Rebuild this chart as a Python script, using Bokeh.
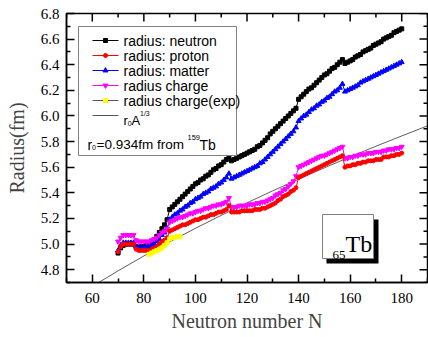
from bokeh.plotting import figure
from bokeh.models import Range1d, LinearAxis, FixedTicker, PrintfTickFormatter, Label
from bokeh.embed import file_html
from bokeh.resources import INLINE

# ---------------- data ----------------
N = list(range(70, 181))

r_neutron = [4.93, 4.97, 4.99, 5.00, 5.00, 5.00, 5.00, 4.98, 4.97, 4.98,
             4.98, 4.99, 5.00, 5.01, 5.03, 5.06, 5.09, 5.12, 5.15, 5.19,
             5.27, 5.29, 5.31, 5.33, 5.35, 5.37, 5.39, 5.41, 5.43, 5.45,
             5.47, 5.48, 5.50, 5.51, 5.53, 5.54, 5.56, 5.58, 5.59, 5.61,
             5.62, 5.64, 5.66, 5.68, 5.65, 5.66, 5.67, 5.68, 5.69, 5.70,
             5.71, 5.72, 5.73, 5.74, 5.76, 5.77, 5.79, 5.81, 5.83, 5.86,
             5.88, 5.90, 5.92, 5.94, 5.96, 5.98, 6.00, 6.02, 6.04, 6.06,
             6.13, 6.15, 6.17, 6.19, 6.21, 6.22, 6.24, 6.26, 6.28, 6.30,
             6.32, 6.33, 6.35, 6.37, 6.38, 6.40, 6.42, 6.44, 6.41, 6.42,
             6.43, 6.44, 6.46, 6.47, 6.48, 6.50, 6.51, 6.52, 6.53, 6.55,
             6.56, 6.57, 6.58, 6.60, 6.61, 6.62, 6.63, 6.65, 6.66, 6.67,
             6.68]

r_proton = [4.94, 4.98, 5.00, 5.00, 5.00, 5.00, 5.00, 4.96, 4.95, 4.95,
            4.95, 4.95, 4.95, 4.96, 4.97, 4.98, 5.00, 5.02, 5.03, 5.05,
            5.10, 5.11, 5.12, 5.13, 5.14, 5.15, 5.15, 5.16, 5.17, 5.18,
            5.19, 5.19, 5.20, 5.21, 5.21, 5.22, 5.23, 5.23, 5.24, 5.25,
            5.25, 5.26, 5.27, 5.30, 5.25, 5.25, 5.25, 5.25, 5.26, 5.26,
            5.26, 5.26, 5.26, 5.27, 5.27, 5.27, 5.28, 5.28, 5.29, 5.30,
            5.31, 5.32, 5.34, 5.35, 5.37, 5.38, 5.39, 5.41, 5.42, 5.44,
            5.52, 5.53, 5.54, 5.55, 5.56, 5.57, 5.58, 5.59, 5.60, 5.61,
            5.62, 5.63, 5.64, 5.65, 5.66, 5.67, 5.68, 5.69, 5.60, 5.61,
            5.61, 5.62, 5.62, 5.63, 5.63, 5.64, 5.64, 5.65, 5.65, 5.65,
            5.66, 5.66, 5.66, 5.68, 5.68, 5.68, 5.69, 5.69, 5.70, 5.70,
            5.71]

r_matter = [4.95, 4.99, 5.01, 5.01, 5.01, 5.01, 5.01, 4.98, 4.97, 4.97,
            4.97, 4.98, 4.98, 4.99, 5.00, 5.02, 5.04, 5.07, 5.09, 5.12,
            5.19, 5.21, 5.23, 5.24, 5.26, 5.27, 5.29, 5.30, 5.32, 5.33,
            5.35, 5.36, 5.37, 5.39, 5.40, 5.41, 5.43, 5.44, 5.45, 5.47,
            5.48, 5.50, 5.52, 5.55, 5.51, 5.52, 5.53, 5.54, 5.55, 5.56,
            5.57, 5.58, 5.59, 5.60, 5.61, 5.63, 5.64, 5.66, 5.68, 5.70,
            5.72, 5.74, 5.76, 5.78, 5.80, 5.82, 5.84, 5.86, 5.88, 5.91,
            5.96, 5.98, 6.00, 6.01, 6.03, 6.05, 6.06, 6.08, 6.09, 6.11,
            6.12, 6.14, 6.15, 6.17, 6.19, 6.20, 6.22, 6.25, 6.19, 6.20,
            6.21, 6.22, 6.23, 6.24, 6.26, 6.27, 6.28, 6.29, 6.30, 6.31,
            6.32, 6.33, 6.34, 6.35, 6.36, 6.37, 6.38, 6.39, 6.40, 6.41,
            6.42]

r_charge = [5.02, 5.05, 5.07, 5.07, 5.07, 5.07, 5.07, 5.03, 5.02, 5.02,
            5.02, 5.02, 5.02, 5.03, 5.04, 5.05, 5.07, 5.09, 5.10, 5.12,
            5.17, 5.18, 5.19, 5.20, 5.21, 5.21, 5.22, 5.23, 5.24, 5.24,
            5.25, 5.26, 5.26, 5.27, 5.28, 5.28, 5.29, 5.30, 5.30, 5.31,
            5.31, 5.32, 5.33, 5.36, 5.29, 5.29, 5.29, 5.30, 5.30, 5.30,
            5.30, 5.31, 5.31, 5.31, 5.32, 5.32, 5.33, 5.33, 5.34, 5.35,
            5.36, 5.38, 5.39, 5.40, 5.42, 5.43, 5.45, 5.47, 5.49, 5.53,
            5.60, 5.61, 5.62, 5.63, 5.64, 5.65, 5.66, 5.67, 5.68, 5.69,
            5.69, 5.70, 5.71, 5.72, 5.73, 5.74, 5.75, 5.76, 5.67, 5.67,
            5.68, 5.68, 5.69, 5.69, 5.70, 5.70, 5.70, 5.71, 5.71, 5.71,
            5.72, 5.72, 5.72, 5.73, 5.73, 5.74, 5.74, 5.74, 5.75, 5.75,
            5.76]

N_exp = [82, 83, 84, 85, 86, 87, 88, 89, 90, 91, 92, 93, 94]
r_charge_exp = [4.92, 4.93, 4.94, 4.95, 4.96, 4.97, 4.99, 5.01, 5.04, 5.05, 5.05, 5.06, 5.06]

N_line = [60, 70, 80, 90, 100, 110, 120, 130, 140, 150, 160, 170, 180, 190]
r_line = [4.670, 4.791, 4.907, 5.017, 5.123, 5.224, 5.322, 5.416, 5.507,
          5.595, 5.681, 5.764, 5.844, 5.923]

x_ticks = [60, 80, 100, 120, 140, 160, 180]
x_minor = [50, 70, 90, 110, 130, 150, 170, 190]
y_ticks = [4.8, 5.0, 5.2, 5.4, 5.6, 5.8, 6.0, 6.2, 6.4, 6.6, 6.8]
y_minor = [4.7, 4.9, 5.1, 5.3, 5.5, 5.7, 5.9, 6.1, 6.3, 6.5, 6.7]

# ---------------- figure ----------------
XMIN, XMAX, YMIN, YMAX = 50, 190, 4.7, 6.8
FL, FR, FT, FB = 66, 427, 13, 282   # frame edges in pixels
SX = (XMAX - XMIN) / (FR - FL)      # data units per pixel
SY = (YMAX - YMIN) / (FB - FT)

def dx(px):
    return XMIN + (px - FL) * SX

def dy(py):
    return YMIN + (FB - py) * SY

p = figure(width=428, height=337, output_backend="svg", toolbar_location=None,
           x_range=Range1d(XMIN, XMAX), y_range=Range1d(YMIN, YMAX),
           min_border_left=FL, min_border_right=428 - FR, min_border_top=FT,
           min_border_bottom=337 - FB, x_axis_type=None, y_axis_type=None)
p.xgrid.visible = False
p.ygrid.visible = False
p.outline_line_color = "black"
p.outline_line_width = 1.5
p.background_fill_color = "white"
p.border_fill_color = "white"

SERIF = "Liberation Serif"
SANS = "Liberation Sans"

def style_axis(ax):
    ax.axis_line_width = 1.5
    ax.axis_line_color = "black"
    ax.major_tick_in = 8
    ax.major_tick_out = 0
    ax.minor_tick_in = 4
    ax.minor_tick_out = 0
    ax.major_tick_line_width = 1.5
    ax.minor_tick_line_width = 1.5
    ax.major_label_text_font = SERIF
    ax.major_label_text_font_size = "15px"
    ax.major_label_text_color = "black"
    ax.axis_label_text_font = SERIF
    ax.axis_label_text_font_style = "normal"
    ax.axis_label_text_font_size = "20px"

xax = LinearAxis(ticker=FixedTicker(ticks=x_ticks, minor_ticks=x_minor))
style_axis(xax)
xax.axis_label = "Neutron number N"
xax.major_label_standoff = 10
xax.axis_label_standoff = 4
p.add_layout(xax, "below")

yax = LinearAxis(ticker=FixedTicker(ticks=y_ticks, minor_ticks=y_minor),
                 formatter=PrintfTickFormatter(format="%.1f"))
style_axis(yax)
yax.axis_label = "Radius(fm)"
yax.major_label_standoff = 7
yax.axis_label_standoff = 10
p.add_layout(yax, "left")

# mirrored ticks on top and right (decoration)
p.segment(x0=x_ticks, y0=[YMAX] * len(x_ticks), x1=x_ticks,
          y1=[YMAX - 8 * SY] * len(x_ticks), line_color="black", line_width=1.5)
p.segment(x0=x_minor, y0=[YMAX] * len(x_minor), x1=x_minor,
          y1=[YMAX - 4 * SY] * len(x_minor), line_color="black", line_width=1.5)
p.segment(x0=[XMAX] * len(y_ticks), y0=y_ticks, x1=[XMAX - 8 * SX] * len(y_ticks),
          y1=y_ticks, line_color="black", line_width=1.5)
p.segment(x0=[XMAX] * len(y_minor), y0=y_minor, x1=[XMAX - 4 * SX] * len(y_minor),
          y1=y_minor, line_color="black", line_width=1.5)

# ---------------- series ----------------
p.line(N_line, r_line, line_color="#333333", line_width=0.8)

p.line(N, r_neutron, line_color="black", line_width=1)
p.scatter(N, r_neutron, marker="square", size=4, color="black")

p.line(N, r_matter, line_color="blue", line_width=1)
p.scatter(N, r_matter, marker="triangle", size=5, color="blue")

p.line(N, r_charge, line_color="magenta", line_width=1)
p.scatter(N, r_charge, marker="inverted_triangle", size=5, color="magenta")

p.line(N, r_proton, line_color="red", line_width=1)
p.scatter(N, r_proton, marker="circle", size=4, color="red")

p.scatter(N_exp, r_charge_exp, marker="square", size=4, color="yellow")

# ---------------- legend (hand made) ----------------
p.quad(left=[dx(78)], right=[dx(236)], top=[dy(26)], bottom=[dy(155)],
       fill_color="white", line_color="#808080", line_width=1)

rows = [
    ("radius: neutron", "black", "black", "square", 4),
    ("radius: proton", "red", "red", "circle", 4),
    ("radius: matter", "blue", "blue", "triangle", 5),
    ("radius charge", "magenta", "magenta", "inverted_triangle", 5),
    ("radius charge(exp)", "#555555", "yellow", "square", 4),
]
row_y = [40, 55, 70, 85, 100]
for (txt, lc, mc, mk, ms), ry in zip(rows, row_y):
    p.line([dx(92), dx(118)], [dy(ry), dy(ry)], line_color=lc, line_width=1)
    p.scatter([dx(105)], [dy(ry)], marker=mk, size=ms, color=mc)
    p.add_layout(Label(x=dx(123), y=dy(ry), text=txt, text_baseline="middle",
                       text_font=SANS, text_font_size="14px", text_color="black"))

p.line([dx(92), dx(118)], [dy(115), dy(115)], line_color="#555555", line_width=1)

def lab(px, py, t, size, font=SANS, base="alphabetic"):
    p.add_layout(Label(x=dx(px), y=dy(py), text=t, text_baseline=base,
                       text_font=font, text_font_size=size, text_color="black"))

lab(123, 120, "r", "13px")
lab(127.3, 123, "0", "7px")
lab(131, 120, "A", "13px")
lab(139.5, 113, "1/3", "7px")

lab(87, 144, "r", "14px")
lab(91.5, 147, "0", "7px")
lab(96, 144, "=0.934fm from ", "13.5px")
lab(187, 137, "159", "7.5px")
lab(199, 144, "Tb", "14px")

# ---------------- Tb box with drop shadow ----------------
p.quad(left=[dx(326)], right=[dx(378)], top=[dy(219)], bottom=[dy(263)],
       fill_color="black", line_color="black", line_width=0)
p.quad(left=[dx(322)], right=[dx(373)], top=[dy(214)], bottom=[dy(258)],
       fill_color="white", line_color="#808080", line_width=1)
lab(332, 254, "65", "13px", font=SERIF)
lab(345, 243, "Tb", "24px", font=SERIF)

open("out.html", "w").write(file_html(p, INLINE))
